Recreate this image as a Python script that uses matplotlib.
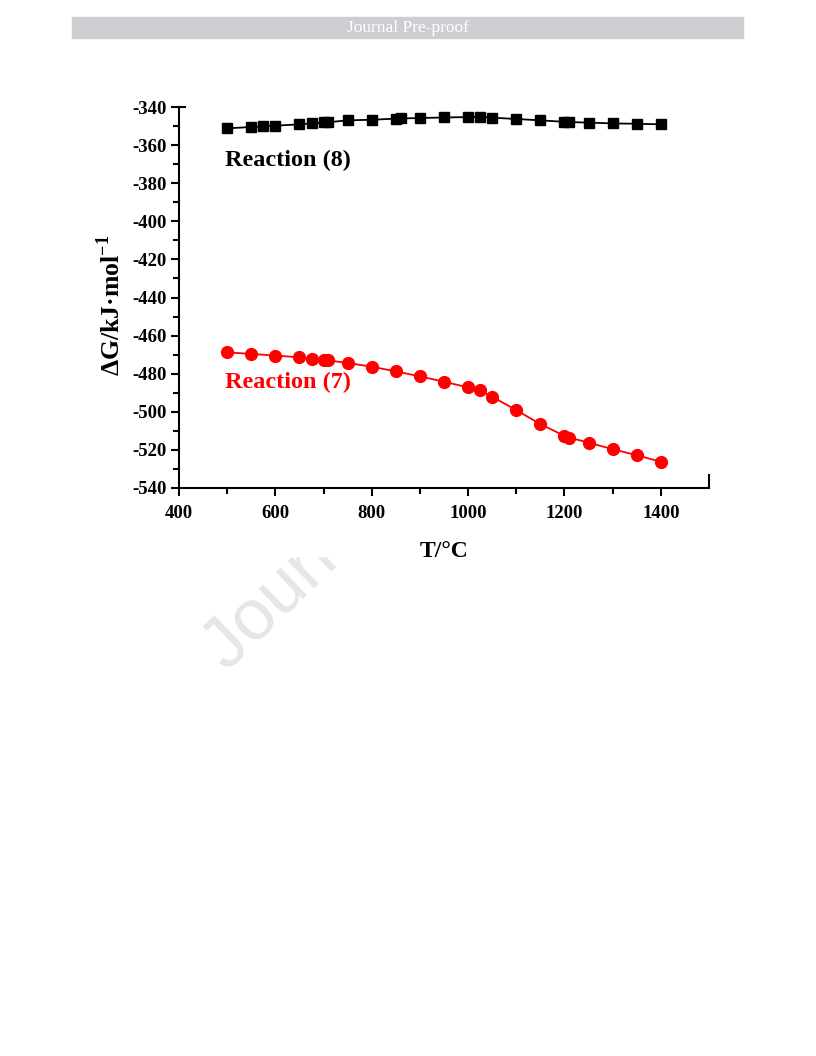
import numpy as np
import matplotlib
matplotlib.use("Agg")
from matplotlib import pyplot as plt
from matplotlib.patches import Rectangle

# data
t_r8 = [500, 550, 575, 600, 650, 675, 700, 710, 750, 800, 850, 860, 900,
        950, 1000, 1025, 1050, 1100, 1150, 1200, 1210, 1250, 1300, 1350, 1400]
dg_r8 = [-351.2, -350.5, -350.2, -349.8, -349.1, -348.6, -348.1, -348.0,
         -347.0, -346.7, -346.1, -346.0, -345.8, -345.5, -345.3, -345.1,
         -345.6, -346.3, -347.0, -347.8, -347.9, -348.2, -348.6, -348.8, -349.1]

t_r7 = [500, 550, 600, 650, 675, 700, 710, 750, 800, 850, 900, 950, 1000,
        1025, 1050, 1100, 1150, 1200, 1210, 1250, 1300, 1350, 1400]
dg_r7 = [-468.8, -469.6, -470.5, -471.4, -472.3, -472.8, -473.0, -474.4,
         -476.3, -478.8, -481.4, -484.2, -487.2, -488.6, -492.1, -499.1,
         -506.5, -512.6, -513.5, -516.2, -519.6, -522.8, -526.2]

x_major = [400, 600, 800, 1000, 1200, 1400]
x_minor = [500, 700, 900, 1100, 1300]
y_major = list(range(-540, -339, 20))
y_minor = list(range(-530, -339, 20))

serif = ["Liberation Serif", "DejaVu Serif"]
plt.rcParams["font.family"] = serif
plt.rcParams["axes.unicode_minus"] = False
plt.rcParams["mathtext.fontset"] = "custom"
plt.rcParams["mathtext.rm"] = "Liberation Serif"
plt.rcParams["mathtext.bf"] = "Liberation Serif:bold"

W, H = 816, 1056
fig = plt.figure(figsize=(W / 100, H / 100), dpi=100)

# header bar
fig.patches.append(Rectangle((72 / W, 1 - 38 / H), (743 - 72) / W, 21 / H,
                             transform=fig.transFigure, color="#cdced2", zorder=-3))
fig.text(408 / W, 1 - 28 / H, "Journal Pre-proof", color="white", fontsize=12.5,
         ha="center", va="center", family=serif, zorder=-2)

# watermark, mostly covered by the chart image
fig.text(228 / W, 1 - 672 / H, "Journal Pre-proof", color="#e6e6e6", fontsize=52,
         family="Liberation Sans", rotation=44, rotation_mode="anchor",
         ha="left", va="baseline", zorder=-2)
fig.patches.append(Rectangle((95 / W, 1 - 556 / H), (722 - 95) / W, (556 - 88) / H,
                             transform=fig.transFigure, color="white", zorder=-1))

ax = fig.add_axes([179 / W, 1 - 488 / H, (709 - 179) / W, (488 - 107) / H])
ax.set_facecolor("none")

ax.plot(t_r8, dg_r8, color="black", lw=1.3, marker="s", ms=7.3, mec="black", mfc="black")
ax.plot(t_r7, dg_r7, color="red", lw=1.3, marker="o", ms=8.5, mec="red", mfc="red")

ax.set_xlim(400, 1500)
ax.set_ylim(-540, -340)
ax.set_xticks(x_major)
ax.set_xticks(x_minor, minor=True)
ax.set_yticks(y_major)
ax.set_yticks(y_minor, minor=True)

for s in ["top", "right"]:
    ax.spines[s].set_visible(False)
for s in ["left", "bottom"]:
    ax.spines[s].set_linewidth(1.5)

ax.tick_params(which="major", direction="out", length=6, width=1.5,
               labelsize=13.5)
ax.tick_params(axis="x", which="major", pad=6)
ax.tick_params(axis="y", which="major", pad=3)
ax.tick_params(which="minor", direction="out", length=4, width=1.5)
for lab in ax.get_xticklabels() + ax.get_yticklabels():
    lab.set_fontweight("bold")

# small inward stubs at the axis ends
ax.plot([400, 412], [-340, -340], color="black", lw=1.5, clip_on=False)
ax.plot([1500, 1500], [-540, -533], color="black", lw=1.5, clip_on=False)

ax.text(0.086, 0.845, "Reaction (8)", transform=ax.transAxes, fontsize=17.5,
        fontweight="bold", color="black", va="baseline")
ax.text(0.086, 0.262, "Reaction (7)", transform=ax.transAxes, fontsize=17.5,
        fontweight="bold", color="red", va="baseline")

ax.set_xlabel("T/\u00b0C", fontsize=17, fontweight="bold", labelpad=14)
ax.set_ylabel("\u0394G/kJ\u00b7mol$^{\\mathbf{-1}}$", fontsize=18.5,
              fontweight="bold")
ax.yaxis.set_label_coords(-0.102, 0.48)

fig.savefig("out.png", dpi=100)
